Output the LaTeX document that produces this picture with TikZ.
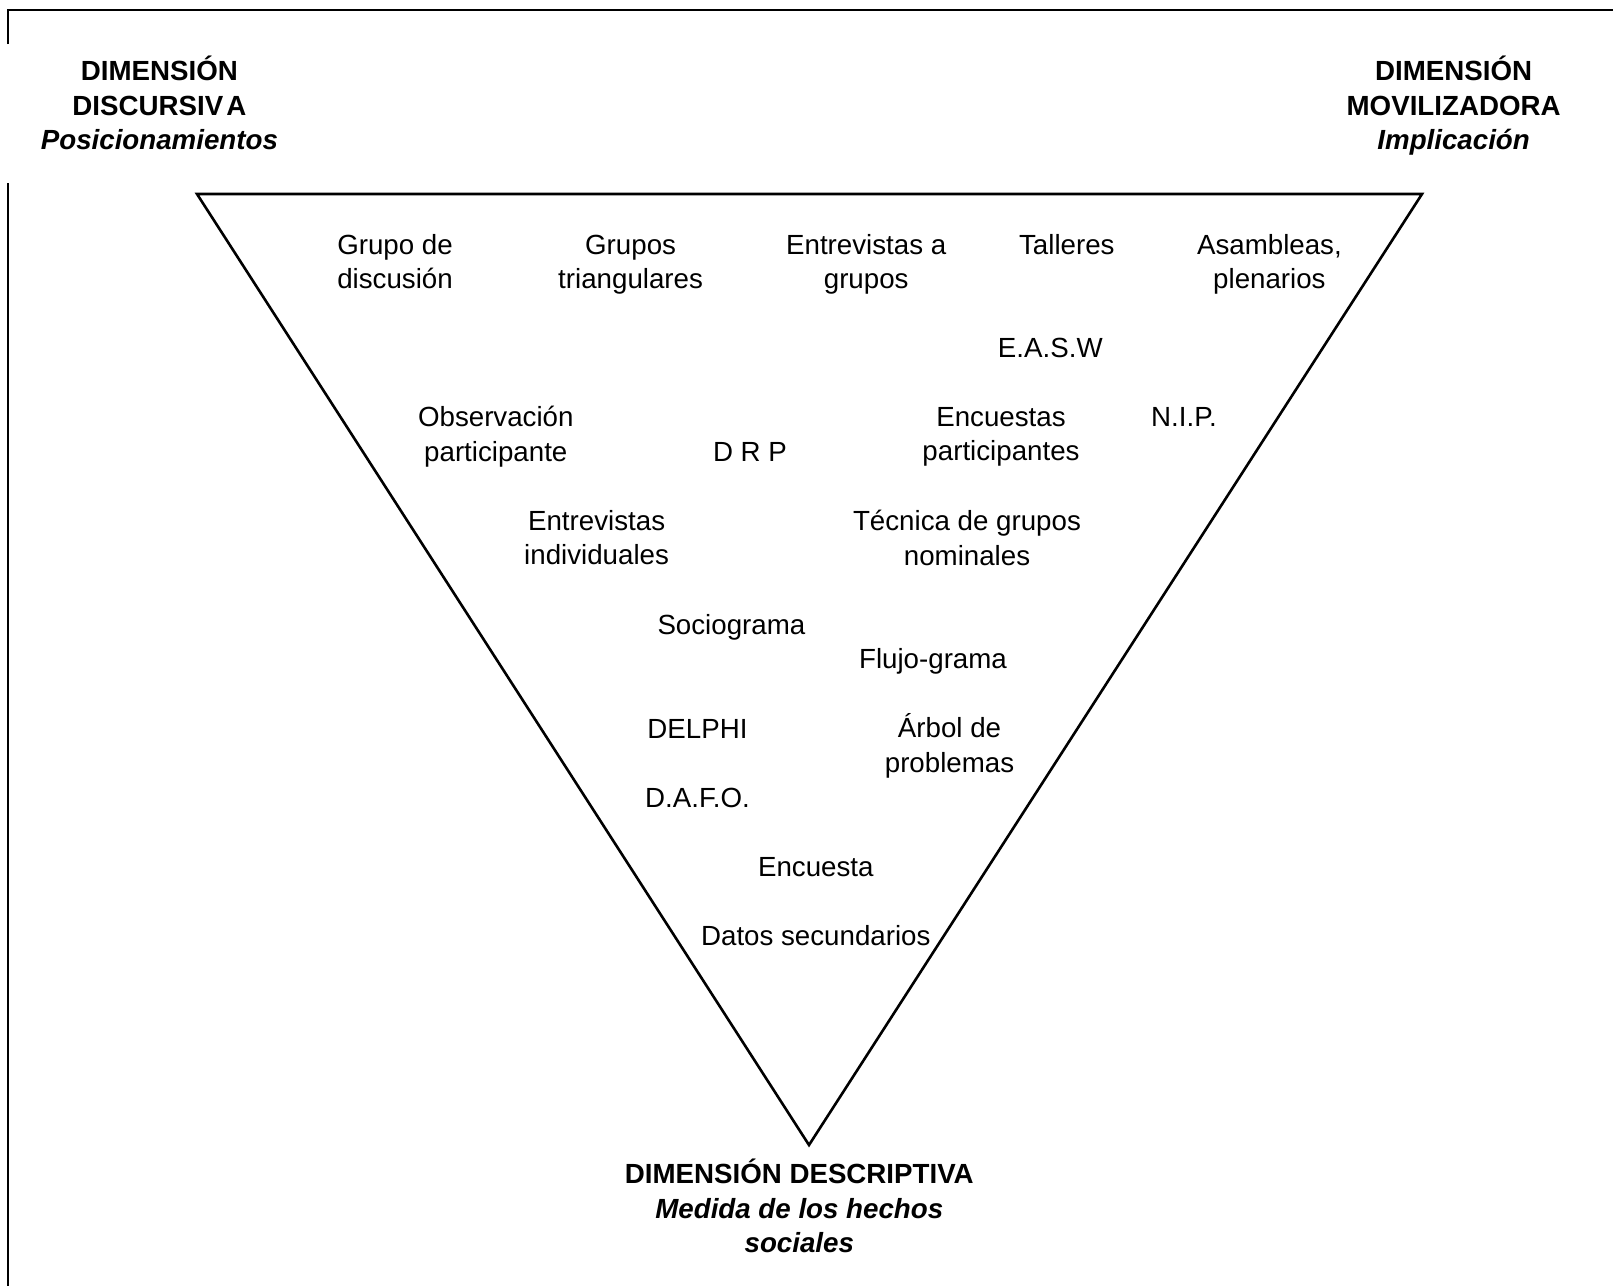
\documentclass[tikz,border=0pt]{standalone}
\usepackage{fontspec}
\setmainfont{Liberation Sans}
\begin{document}
\begin{tikzpicture}[x=1pt,y=-1pt,
  lbl/.style={align=center,inner sep=0pt,font=\fontsize{27.7}{34.5}\selectfont},
  one/.style={inner sep=0pt,anchor=base,font=\fontsize{27.7}{34.5}\selectfont},
  hdr/.style={align=center,inner sep=0pt,font=\fontsize{27.7}{34.5}\selectfont\bfseries},
  tri/.style={line width=2.6pt,line join=miter},
  frameline/.style={line width=2pt}]
\useasboundingbox (0,0) rectangle (1613,1286);
% frame
\coordinate (f1) at (7.5,44);
\coordinate (f2) at (7.5,10);
\coordinate (f3) at (1613,10);
\coordinate (f4) at (7.5,183);
\coordinate (f5) at (7.5,1286);
\draw[frameline] (f1) -- (f2) -- (f3);
\draw[frameline] (f4) -- (f5);
% triangle
\coordinate (tl) at (197,194);
\coordinate (tr) at (1422,194);
\coordinate (bt) at (809,1145);
\draw[tri] (tl) -- (tr) -- (bt) -- cycle;
% headers
\node[hdr] (hl) at (159.4,102.9) {DIMENSIÓN\\DISCURSIV\kern3pt A\\\textit{Posicionamientos}};
\node[hdr] (hr) at (1453.6,105.7) {DIMENSIÓN\\MOVILIZADORA\\\textit{Implicación}};
\node[hdr] (hb) at (799.3,1206.2) {DIMENSIÓN DESCRIPTIVA\\\textit{Medida de los hechos}\\\textit{sociales}};
% labels
\node[lbl] (gd) at (395,261.6) {Grupo de\\discusión};
\node[lbl] (gt) at (630.6,264.5) {Grupos\\triangulares};
\node[lbl] (eg) at (866.2,264.5) {Entrevistas a\\grupos};
\node[one] (ta) at (1066.8,254.7) {Talleres};
\node[lbl] (as) at (1269.4,264.5) {Asambleas,\\plenarios};
\node[one] (ea) at (1050.3,357.6) {E.A.S.W};
\node[lbl] (op) at (495.8,436.8) {Observación\\participante};
\node[one] (dr) at (750,461.5) {D R P};
\node[lbl] (ep) at (1001,436.8) {Encuestas\\participantes};
\node[one] (ni) at (1184,426.5) {N.I.P.};
\node[lbl] (ei) at (596.6,537.8) {Entrevistas\\individuales};
\node[lbl] (tg) at (967,537.8) {Técnica de grupos\\nominales};
\node[one] (so) at (731.4,634.3) {Sociograma};
\node[one] (fl) at (933,668.3) {Flujo-grama};
\node[one] (de) at (697.5,738.2) {DELPHI};
\node[lbl] (ar) at (949.5,745.6) {Árbol de\\problemas};
\node[one] (da) at (697.5,807.1) {D.A.F.O.};
\node[one] (en) at (815.8,876.1) {Encuesta};
\node[one] (ds) at (815.8,945.0) {Datos secundarios};
\end{tikzpicture}
\end{document}
